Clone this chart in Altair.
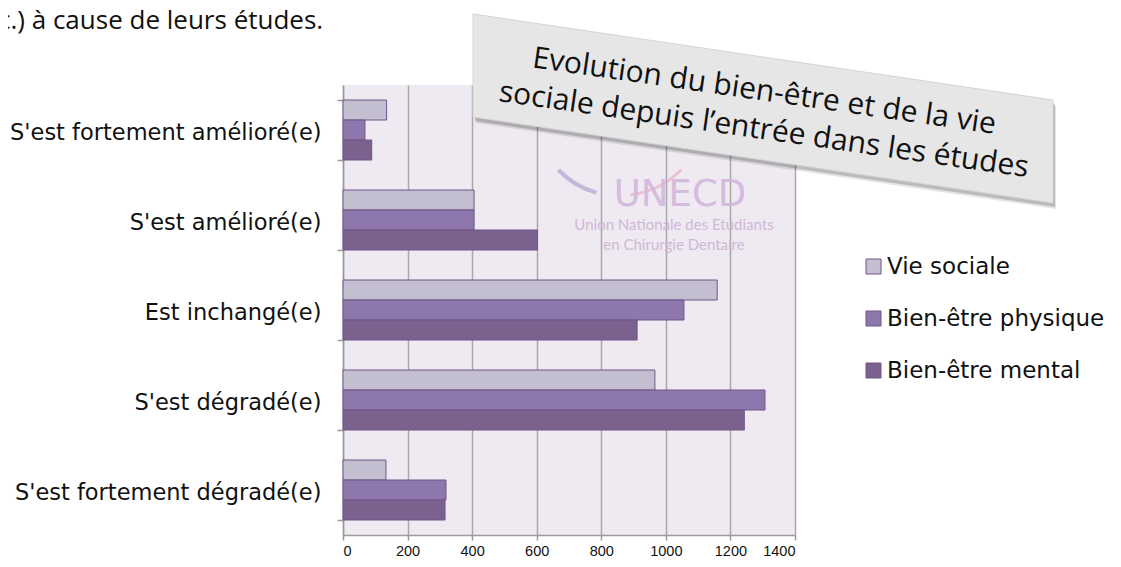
import altair as alt
import pandas as pd

categories = [
    "S'est fortement amélioré(e)",
    "S'est amélioré(e)",
    "Est inchangé(e)",
    "S'est dégradé(e)",
    "S'est fortement dégradé(e)",
]
series = ["Vie sociale", "Bien-être physique", "Bien-être mental"]
vie_sociale = [135, 406, 1159, 966, 133]
bien_etre_physique = [68, 406, 1056, 1307, 319]
bien_etre_mental = [89, 602, 911, 1243, 316]
x_ticks = [0, 200, 400, 600, 800, 1000, 1200, 1400]
colors = ["#c4bfd0", "#8e77ac", "#7a618e"]

title_lines = ["Evolution du bien-être et de la vie",
               "sociale depuis l\u2019entrée dans les études"]
top_text = "c.) à cause de leurs études."
wm_big = "UNECD"
wm_small = ["Union Nationale des Etudiants", "en Chirurgie Dentaire"]

rows = []
for s, vals in zip(series, [vie_sociale, bien_etre_physique, bien_etre_mental]):
    for c, v in zip(categories, vals):
        rows.append({"categorie": c, "serie": s, "valeur": v})
df = pd.DataFrame(rows)

W, H = 452, 450
OX, OY = 343, 85  # page position of plot origin

bars = alt.Chart(df).mark_bar(stroke="#6e5688", strokeWidth=1).encode(
    x=alt.X("valeur:Q",
            scale=alt.Scale(domain=[0, 1400], nice=False),
            axis=alt.Axis(values=x_ticks, title=None, grid=True, format="d",
                          gridColor="#a9a9a9", gridWidth=1.5,
                          domainColor="#9a9a9a", domainWidth=1.5,
                          tickColor="#9a9a9a", tickSize=5, tickWidth=1.5,
                          labelFont="Liberation Sans", labelFontSize=14.5,
                          labelColor="#111", labelPadding=4)),
    y=alt.Y("categorie:N", sort=categories,
            scale=alt.Scale(paddingInner=1/3, paddingOuter=1/6),
            axis=alt.Axis(title=None, tickBand="extent", grid=False,
                          domainColor="#9a9a9a", domainWidth=1.5,
                          tickColor="#9a9a9a", tickSize=6, tickWidth=1.5,
                          labelFont="DejaVu Sans", labelFontSize=22.5,
                          labelColor="#111", labelPadding=16,
                          labelOffset=2, labelLimit=400)),
    yOffset=alt.YOffset("serie:N", sort=series,
                        scale=alt.Scale(paddingInner=0, paddingOuter=0)),
    color=alt.Color("serie:N", sort=series,
                    scale=alt.Scale(domain=series, range=colors),
                    legend=alt.Legend(title=None, orient="none",
                                      legendX=519, legendY=170,
                                      symbolType="square", symbolSize=225,
                                      symbolStrokeColor="#6e5688",
                                      symbolStrokeWidth=1,
                                      labelFont="DejaVu Sans",
                                      labelFontSize=23, labelColor="#111",
                                      labelOffset=2, rowPadding=28,
                                      labelLimit=400)),
)

one = pd.DataFrame({"k": [0]})

# watermark
swoosh1 = alt.Chart(one).mark_arc(color="#9b8fcb", opacity=0.55, theta=3.42, theta2=3.94,
                                  radius=84, radius2=88).encode(
    x=alt.value(620 - OX), y=alt.value(110 - OY))
swoosh2 = alt.Chart(one).mark_arc(color="#e3a3b3", opacity=0.55, theta=2.34, theta2=3.02,
                                  radius=84, radius2=87).encode(
    x=alt.value(620 - OX), y=alt.value(110 - OY))
wm1 = alt.Chart(one).mark_text(font="DejaVu Sans", fontSize=37,
                               color="#d3b6dc", opacity=0.9).encode(
    x=alt.value(680 - OX), y=alt.value(195 - OY), text=alt.value(wm_big))
wm2 = alt.Chart(one).mark_text(font="Lato", fontSize=15, color="#cdb3d6",
                               opacity=0.9).encode(
    x=alt.value(674 - OX), y=alt.value(225 - OY), text=alt.value(wm_small[0]))
wm3 = alt.Chart(one).mark_text(font="Lato", fontSize=15, color="#cdb3d6",
                               opacity=0.9).encode(
    x=alt.value(674 - OX), y=alt.value(245 - OY), text=alt.value(wm_small[1]))

# skewed title box (parallelogram, vertical sides)
box_path = "M-1,-0.3259L1,-0.0293L1,0.3259L-1,0.0293Z"
BOX = 580 ** 2
shadow = alt.Chart(one).mark_point(shape=box_path, size=BOX,
                                   filled=True, fill="#000000", opacity=0.18,
                                   strokeWidth=0).encode(
    x=alt.value(763 + 2 - OX), y=alt.value(108.5 + 4 - OY))
shadow2 = alt.Chart(one).mark_point(shape=box_path, size=BOX,
                                    filled=True, fill="#000000", opacity=0.10,
                                    strokeWidth=0).encode(
    x=alt.value(763 + 3 - OX), y=alt.value(108.5 + 6 - OY))
box = alt.Chart(one).mark_point(shape=box_path, size=BOX,
                                filled=True, fill="#e6e6e6", opacity=1,
                                stroke="#d4d4d4", strokeWidth=1).encode(
    x=alt.value(763 - OX), y=alt.value(108.5 - OY))
ANG = 8.2
t1 = alt.Chart(one).mark_text(font="Open Sans", fontSize=30, color="#111",
                              angle=ANG, align="center", baseline="alphabetic").encode(
    x=alt.value(763 - OX), y=alt.value(100.5 - OY), text=alt.value(title_lines[0]))
t2 = alt.Chart(one).mark_text(font="Open Sans", fontSize=30, color="#111",
                              angle=ANG, align="center", baseline="alphabetic").encode(
    x=alt.value(762.5 - OX), y=alt.value(139 - OY), text=alt.value(title_lines[1]))

top = alt.Chart(one).mark_text(font="Open Sans", fontSize=26, color="#111",
                               align="left", baseline="alphabetic").encode(
    x=alt.value(-2 - OX), y=alt.value(29 - OY), text=alt.value(top_text))

chart = alt.layer(bars, swoosh1, swoosh2, wm1, wm2, wm3, shadow2, shadow, box,
                  t1, t2, top).properties(
    width=W, height=H,
    autosize="none",
    padding={"left": OX - 8, "top": OY - 8, "right": 1105 - (OX - 8) - W,
             "bottom": 551 - (OY - 8) - H},
    background="white",
).configure_view(stroke=None, fill="#efeaf1")

chart.save("out.html", embed_options={"renderer": "svg", "actions": False})
